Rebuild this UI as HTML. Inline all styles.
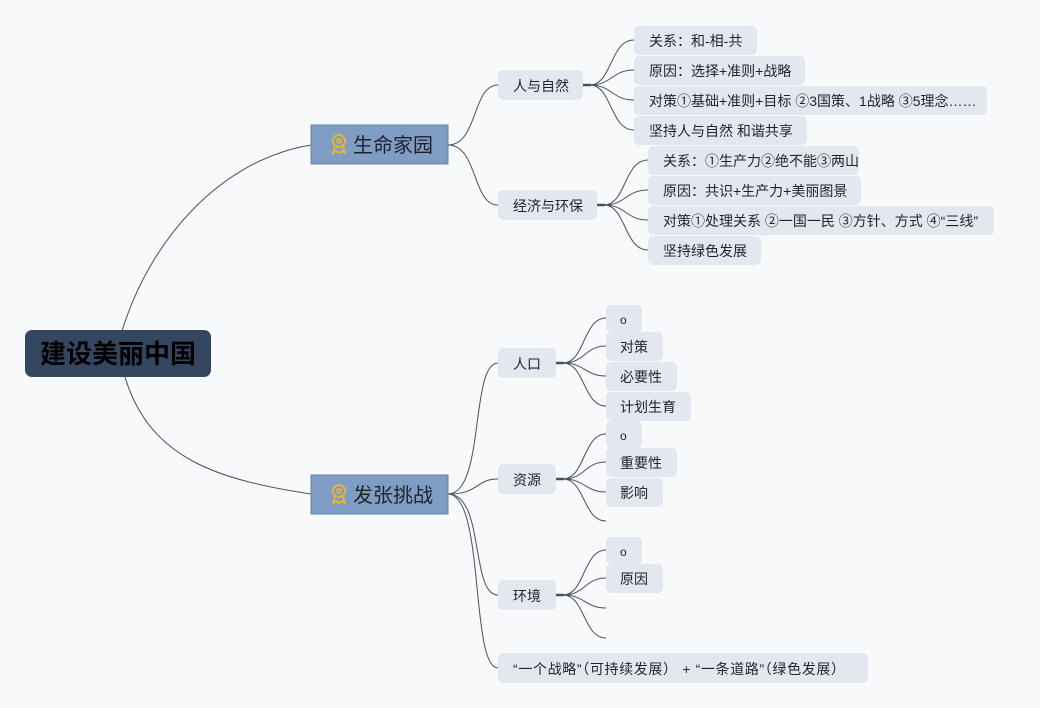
<!DOCTYPE html>
<html><head><meta charset="utf-8"><style>
html,body{margin:0;padding:0;background:#f8f9fa;}
svg{display:block}
text{font-family:"Liberation Sans","Noto Sans CJK SC",sans-serif;fill:#1f2328;}
.lf{fill:#e3e8f0}
</style></head><body>
<svg width="1040" height="708" viewBox="0 0 1040 708" xmlns="http://www.w3.org/2000/svg">
<g fill="none" stroke="#4a5060" stroke-width="1">
<path d="M122 331 C150 240 220 160 311 145"/>
<path d="M125 377 C150 460 220 480 311 494"/>
<path d="M448 145 C478 145 472 85 498 85"/>
<path d="M448 145 C478 145 472 205 498 205"/>
<path d="M448 494 C485 494 470 363 498 363"/>
<path d="M448 494 C480 494 475 479 498 479"/>
<path d="M448 494 C485 494 470 595 498 595"/>
<path d="M448 494 C485 494 470 668 498 668"/>
<path d="M590 85 C612 85 610 40 634 40"/>
<path d="M590 85 C612 85 612 70 634 70"/>
<path d="M590 85 C612 85 612 100 634 100"/>
<path d="M590 85 C612 85 610 130 634 130"/>
<path d="M604 205 C626 205 624 160 648 160"/>
<path d="M604 205 C626 205 626 190 648 190"/>
<path d="M604 205 C626 205 626 220 648 220"/>
<path d="M604 205 C626 205 624 250 648 250"/>
<path d="M563 363 C585 363 583 318 606 318"/>
<path d="M563 363 C585 363 585 346 606 346"/>
<path d="M563 363 C585 363 585 376 606 376"/>
<path d="M563 363 C585 363 583 406 606 406"/>
<path d="M563 479 C585 479 583 434 606 434"/>
<path d="M563 479 C585 479 585 462 606 462"/>
<path d="M563 479 C585 479 585 492 606 492"/>
<path d="M563 479 C585 479 583 521 606 521"/>
<path d="M563 595 C585 595 583 550 606 550"/>
<path d="M563 595 C585 595 585 578 606 578"/>
<path d="M563 595 C585 595 585 608 606 608"/>
<path d="M563 595 C585 595 583 638 606 638"/>
</g>
<g stroke="#4a5060" stroke-width="2.5">
<line x1="583" y1="85" x2="591" y2="85"/><line x1="597" y1="205" x2="605" y2="205"/>
<line x1="556" y1="363" x2="564" y2="363"/><line x1="556" y1="479" x2="564" y2="479"/><line x1="556" y1="595" x2="564" y2="595"/>
</g>
<rect x="25" y="330" width="186" height="47" rx="7" fill="#354760"/>
<text x="118" y="363" font-size="26" font-weight="bold" text-anchor="middle" style="fill:#000">建设美丽中国</text>
<g>
<rect x="311" y="125" width="137" height="39" fill="#7f9cc4" stroke="#5f8a96" stroke-width="1"/>
<rect x="311" y="475" width="137" height="39" fill="#7f9cc4" stroke="#5f8a96" stroke-width="1"/>
<g fill="none" stroke="#e3b43a" stroke-width="2"><circle cx="339" cy="141" r="6"/><circle cx="339" cy="141" r="2"/><path d="M335 146 L333 153 L336 151 L339 153 L342 151 L345 153 L343 146"/>
<circle cx="339" cy="491" r="6"/><circle cx="339" cy="491" r="2"/><path d="M335 496 L333 503 L336 501 L339 503 L342 501 L345 503 L343 496"/></g>
<text x="353" y="152" font-size="20">生命家园</text>
<text x="353" y="502" font-size="20">发张挑战</text>
</g>
<g font-size="14">
<rect class="lf" x="498" y="70" width="85" height="30" rx="5"/><text x="513" y="91">人与自然</text>
<rect class="lf" x="498" y="190" width="99" height="30" rx="5"/><text x="513" y="211">经济与环保</text>
<rect class="lf" x="498" y="348" width="58" height="30" rx="5"/><text x="513" y="369">人口</text>
<rect class="lf" x="498" y="464" width="58" height="30" rx="5"/><text x="513" y="485">资源</text>
<rect class="lf" x="498" y="580" width="58" height="30" rx="5"/><text x="513" y="601">环境</text>
<rect class="lf" x="498" y="653" width="370" height="30" rx="5"/><text x="513" y="674" textLength="332" lengthAdjust="spacing">“一个战略”（可持续发展） + “一条道路”（绿色发展）</text>

<rect class="lf" x="634" y="26" width="123" height="29" rx="5"/><text x="649" y="46">关系：和-相-共</text>
<rect class="lf" x="634" y="56" width="171" height="29" rx="5"/><text x="649" y="76">原因：选择+准则+战略</text>
<rect class="lf" x="634" y="86" width="353" height="29" rx="5"/><text x="649" y="106">对策①基础+准则+目标 ②3国策、1战略 ③5理念……</text>
<rect class="lf" x="634" y="116" width="173" height="29" rx="5"/><text x="649" y="136">坚持人与自然 和谐共享</text>

<rect class="lf" x="648" y="146" width="211" height="29" rx="5"/><text x="663" y="166">关系：①生产力②绝不能③两山</text>
<rect class="lf" x="648" y="176" width="213" height="29" rx="5"/><text x="663" y="196">原因：共识+生产力+美丽图景</text>
<rect class="lf" x="648" y="206" width="346" height="29" rx="5"/><text x="663" y="226">对策①处理关系 ②一国一民 ③方针、方式 ④“三线”</text>
<rect class="lf" x="648" y="236" width="113" height="29" rx="5"/><text x="663" y="256">坚持绿色发展</text>

<rect class="lf" x="606" y="305" width="36" height="27" rx="5"/><text x="620" y="324" font-size="12">o</text>
<rect class="lf" x="606" y="332" width="57" height="29" rx="5"/><text x="620" y="352">对策</text>
<rect class="lf" x="606" y="362" width="71" height="29" rx="5"/><text x="620" y="382">必要性</text>
<rect class="lf" x="606" y="392" width="85" height="29" rx="5"/><text x="620" y="412">计划生育</text>

<rect class="lf" x="606" y="421" width="36" height="27" rx="5"/><text x="620" y="440" font-size="12">o</text>
<rect class="lf" x="606" y="448" width="71" height="29" rx="5"/><text x="620" y="468">重要性</text>
<rect class="lf" x="606" y="478" width="57" height="29" rx="5"/><text x="620" y="498">影响</text>

<rect class="lf" x="606" y="537" width="36" height="27" rx="5"/><text x="620" y="556" font-size="12">o</text>
<rect class="lf" x="606" y="564" width="57" height="29" rx="5"/><text x="620" y="584">原因</text>
</g>
</svg>
</body></html>
